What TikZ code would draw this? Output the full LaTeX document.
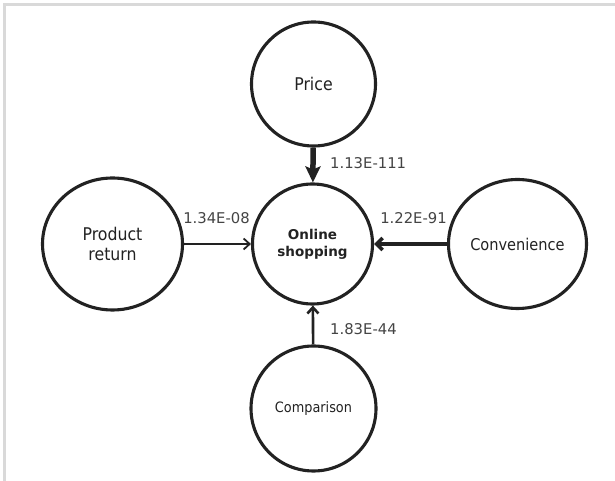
\documentclass[tikz,border=0pt]{standalone}
\usepackage{fontspec}
\setmainfont{DejaVu Sans}
\newfontfamily\condfont{DejaVu Sans Condensed}
\usetikzlibrary{arrows.meta,shapes.geometric}
\definecolor{ink}{HTML}{222222}
\definecolor{lab}{HTML}{444444}
\definecolor{framegray}{HTML}{D9D9D9}
\begin{document}
\begin{tikzpicture}[x=1pt,y=1pt,
  bub/.style={circle,draw=ink,line width=3.1pt,inner sep=0pt,text=ink,align=center},
  ell/.style={ellipse,draw=ink,line width=3.1pt,inner sep=0pt,text=ink,align=center},
  lbl/.style={text=lab,font=\fontsize{14.8}{17}\selectfont,inner sep=0pt},
  nodefont/.style={font=\condfont\fontsize{#1}{20}\selectfont}]
\useasboundingbox (0,0) rectangle (615,481);
\fill[white] (0,0) rectangle (615,481);
\draw[framegray,line width=2.6pt] (4.7,0) -- (4.7,476.3) -- (615,476.3);

\node[bub,minimum size=124,nodefont=17.5] (price) at (313.5,397) {Price};
\node[bub,minimum size=120,font=\bfseries\fontsize{13.5}{17}\selectfont] (online) at (312.5,237) {Online\\shopping};
\node[ell,minimum width=140,minimum height=132,nodefont=17.5] (product) at (112.5,237) {Product\\return};
\node[ell,minimum width=138,minimum height=129,nodefont=16.2] (conv) at (517.5,237) {Convenience};
\node[bub,minimum size=125,nodefont=14.3] (comp) at (313.5,72.5) {Comparison};

\draw[ink,line width=5.5pt,-{Stealth[length=16pt,width=15pt,inset=3pt]}] (price) -- (online);
\draw[ink,line width=1.8pt,-{Straight Barb[length=6pt,width=11pt]}] (product) -- (online);
\draw[ink,line width=3.6pt,-{Straight Barb[length=6pt,width=12pt]}] (conv) -- (online);
\draw[ink,line width=2.6pt,-{Straight Barb[length=6pt,width=11pt]}] (comp) -- (online);

\node[lbl,anchor=west] (lp) at (330,318) {1.13E-111};
\node[lbl] (lr) at (216.5,263) {1.34E-08};
\node[lbl] (lc) at (413.5,263) {1.22E-91};
\node[lbl,anchor=west] (lm) at (330,152) {1.83E-44};
\end{tikzpicture}
\end{document}
